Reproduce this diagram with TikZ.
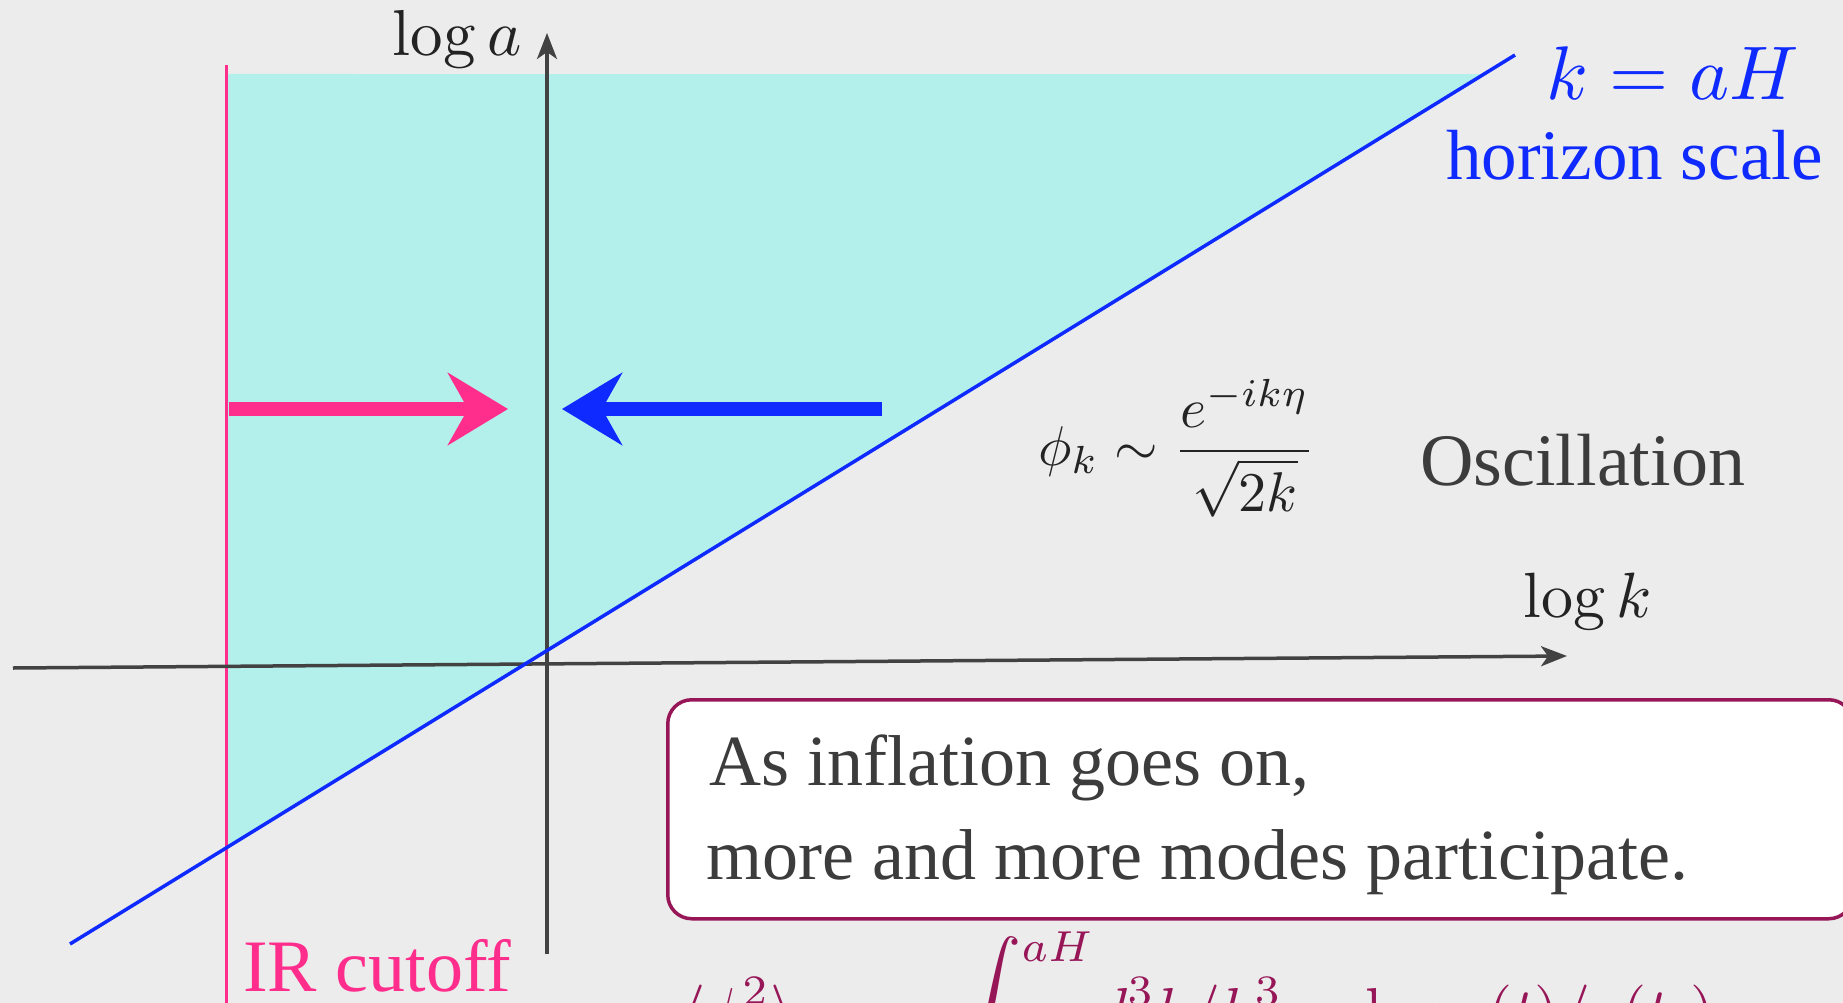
\documentclass[tikz,border=0pt]{standalone}
\usepackage{amsmath}
\usepackage[no-math]{fontspec}
\setmainfont{Liberation Serif}
\usepackage{tikz}
\usetikzlibrary{arrows.meta, calc}

\definecolor{paper}{RGB}{236,236,236}
\definecolor{horizonfill}{RGB}{179,240,236}
\definecolor{horizonblue}{RGB}{14,42,255}
\definecolor{irpink}{RGB}{255,45,140}
\definecolor{axisgray}{RGB}{66,66,66}
\definecolor{textgray}{RGB}{60,60,60}
\definecolor{mathdark}{RGB}{35,35,35}
\definecolor{notered}{RGB}{150,22,88}

\newcommand{\fsz}[1]{\fontsize{#1}{#1}\selectfont}

\begin{document}
\begin{tikzpicture}[x=1pt, y=-1pt,
  axis/.style={axisgray, line width=3.5pt, -{Stealth[length=26pt, width=20pt, inset=7pt]}},
  chalk/.style={line width=14pt, -{Stealth[length=60pt, width=72pt, inset=20pt]}},
  label/.style={inner sep=0pt, textgray},
  formula/.style={inner sep=0pt, font=\normalsize, scale=#1}]
  % page of the slide
  \useasboundingbox (0,0) rectangle (1843,1003);
  \clip (0,0) rectangle (1843,1003);
  \fill[paper] (0,0) rectangle (1843,1003);
  % axes and the two lines
  \coordinate (kleft)  at (13,668);
  \coordinate (kright) at (1567,656);
  \coordinate (abot)   at (547,954);
  \coordinate (atop)   at (547,33);
  \coordinate (irtop)  at (226,65);
  \coordinate (irbot)  at (226,1003);
  \coordinate (hzlo)   at (70,944);
  \coordinate (hzhi)   at (1515,55);
  % modes inside the horizon
  \fill[horizonfill] (226,74) -- ($(hzlo)!0.9786!(hzhi)$) -- ($(hzlo)!0.108!(hzhi)$) -- cycle;
  \draw[irpink, line width=3pt] (irtop) -- (irbot);
  \draw[axis] (kleft) -- (kright);
  \draw[axis] (abot) -- (atop);
  \draw[horizonblue, line width=3.5pt] (hzlo) -- (hzhi);
  % the window closes in from both sides
  \coordinate (pinkfrom) at (229,409);
  \coordinate (pinkto)   at (508,409);
  \coordinate (bluefrom) at (882,409);
  \coordinate (blueto)   at (562,409);
  \draw[chalk, irpink]      (pinkfrom) -- (pinkto);
  \draw[chalk, horizonblue] (bluefrom) -- (blueto);
  % labels
  \node[formula=6.5, mathdark, anchor=base east] (loga) at (523,56) {$\log a$};
  \node[formula=6.4, mathdark, anchor=base west] (logk) at (1522,617) {$\log k$};
  \node[formula=7.6, horizonblue, anchor=base west] (kah) at (1545,100) {$k=aH$};
  \node[inner sep=0pt, horizonblue, anchor=base west, font={\fsz{71}}] (hzname) at (1446,180) {horizon scale};
  \node[formula=5.6, mathdark, anchor=base] (mode) at (1177,465)
    {$\displaystyle \phi_k\sim\frac{e^{-ik\eta}}{\sqrt{2k}}$};
  \node[label, anchor=base west, font={\fsz{74}}] (osc) at (1420,485) {Oscillation};
  \node[inner sep=0pt, irpink, anchor=base west, font={\fsz{74}}] (ircut) at (243,991) {IR cutoff};
  % the note
  \node[draw=notered, fill=white, line width=3.5pt, rounded corners=24pt,
        minimum width=1185pt, minimum height=219pt, anchor=north west] (note) at (666,698) {};
  \node[label, anchor=base west, font={\fsz{72}}] (note1) at (709,785) {As inflation goes on,};
  \node[label, anchor=base west, font={\fsz{72}}] (note2) at (706,879) {more and more modes participate.};
  % growth of the variance, cut by the page edge
  \node[formula=6.2, notered, anchor=base west] (growth) at (680,1031)
    {$\displaystyle \langle\phi^2\rangle \sim\hspace{1.33em}
      \raisebox{1.7pt}{$\displaystyle\int^{\raisebox{-1.7pt}{$\scriptstyle aH$}}$}
      d^3k/k^3 \sim \log a(t)/a(t_i)$};
\end{tikzpicture}
\end{document}
